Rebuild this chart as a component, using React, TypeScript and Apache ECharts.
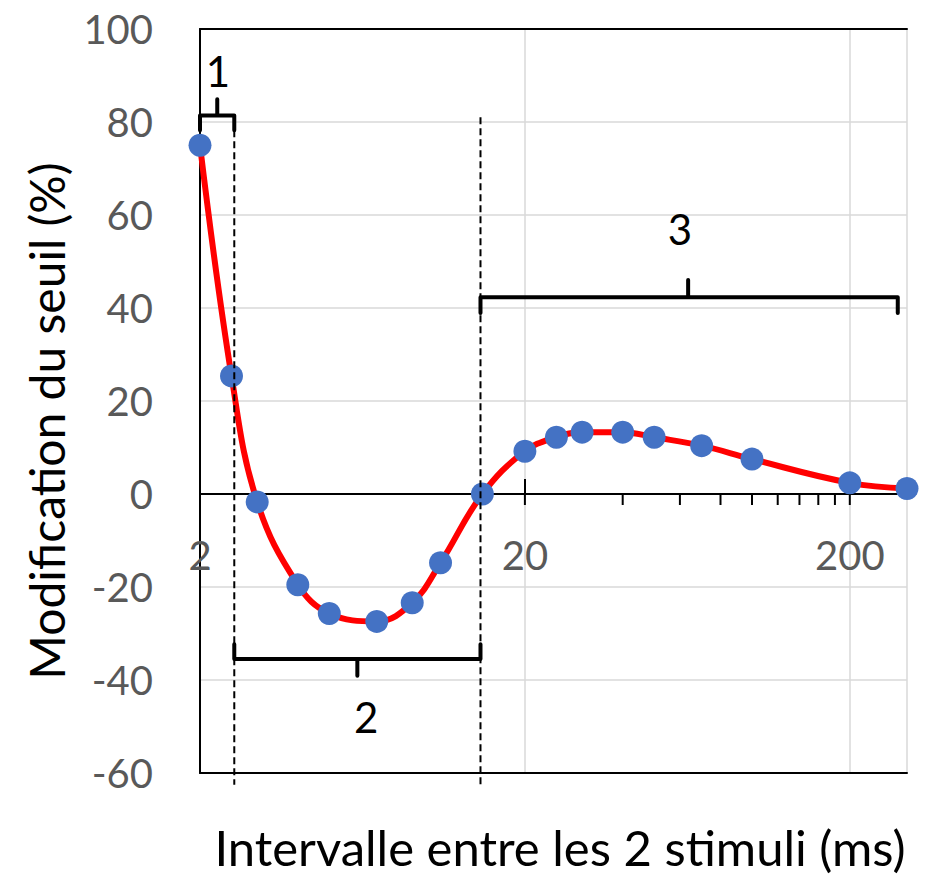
import React, { useEffect, useRef } from "react";
import * as echarts from "echarts";

// ---- data ----
const intervalsMs = [2, 2.5, 3, 4, 5, 7, 9, 11, 14.8, 20, 25, 30, 40, 50, 70, 100, 200, 300];
const thresholdChangePct = [75, 25.4, -1.7, -19.5, -25.7, -27.4, -23.4, -14.8, 0, 9.2, 12.2, 13.3, 13.3, 12.2, 10.4, 7.5, 2.4, 1.2];

const xMinMs = 2;
const xMaxMs = 300;
const yMin = -60;
const yMax = 100;
const yStep = 20;

const xTickLabelsMs = [2, 20, 200];
const majorTickBelow = [false, true, true];
const minorTickMs = [40, 60, 80, 100, 120, 140, 160, 180];

// phases (brackets)
const phaseLabels = ["1", "2", "3"];
const phaseStartMs = [2, 2.55, 14.6];
const phaseEndMs = [2.55, 14.6, 281];
const phaseNotchMs = [2.26, 6.1, 63.6];
const phaseBarPct = [81.4, -35.5, 42.3];
const phaseTipPct = [78.2, -32.3, 38.9];
const phaseNotchPct = [84.9, -39.1, 46];
const phaseLabelMs = [2.27, 6.5, 60];
const phaseLabelPct = [91, -48, 57];

// phase boundaries (dashed)
const boundaryMs = [2.55, 14.6];
const boundaryTopPct = [78.2, 81];
const boundaryBottomPct = -62.5;

const xTitle = "Intervalle entre les 2 stimuli (ms)";
const yTitle = "Modification du seuil (%)";

const toLog = (v: number) => Math.log10(v / xMinMs);

const FONT = "Lato";

export default function App() {
  const ref = useRef<HTMLDivElement>(null);

  useEffect(() => {
    if (!ref.current) return;
    const chart = echarts.init(ref.current, undefined, { renderer: "svg" });
    const xMaxLog = toLog(xMaxMs);

    const commonX = { type: "value", min: 0, max: xMaxLog, interval: 1 };

    chart.setOption({
      animation: false,
      backgroundColor: "#ffffff",
      grid: { left: 200, right: 21, top: 29, bottom: 102, outerBoundsMode: "none", containLabel: false },
      graphic: [
        {
          type: "text",
          x: 560,
          y: 847,
          style: {
            text: xTitle,
            fill: "#000000",
            fontSize: 49,
            lineHeight: 50,
            fontFamily: FONT,
            align: "center",
            verticalAlign: "middle",
          },
        },
        {
          type: "text",
          x: 46,
          y: 421,
          rotation: Math.PI / 2,
          style: {
            text: yTitle,
            fill: "#000000",
            fontSize: 48,
            fontFamily: FONT,
            align: "center",
            verticalAlign: "middle",
          },
        },
      ],
      xAxis: [
        {
          ...commonX,
          position: "bottom",
          axisLine: { onZero: true, lineStyle: { color: "#000000", width: 2 } },
          axisTick: { show: true, inside: true, length: 15, lineStyle: { color: "#000000", width: 2 } },
          axisLabel: { show: false },
          splitLine: { show: true, lineStyle: { color: "#d9d9d9", width: 1.5 } },
        },
        {
          ...commonX,
          position: "bottom",
          axisLine: { onZero: false, lineStyle: { color: "#000000", width: 2 } },
          axisTick: { show: false },
          axisLabel: { show: false },
          splitLine: { show: false },
        },
        {
          ...commonX,
          position: "top",
          axisLine: { onZero: false, lineStyle: { color: "#000000", width: 2 } },
          axisTick: { show: false },
          axisLabel: { show: false },
          splitLine: { show: false },
        },
      ],
      yAxis: [
        {
          type: "value",
          min: yMin,
          max: yMax,
          interval: yStep,
          position: "left",
          axisLine: { show: true, lineStyle: { color: "#d9d9d9", width: 2 } },
          axisTick: { show: false },
          axisLabel: { margin: 47, color: "#595959", fontSize: 40, fontFamily: FONT },
          splitLine: { show: true, lineStyle: { color: "#d9d9d9", width: 1.5 } },
        },
        {
          type: "value",
          min: yMin,
          max: yMax,
          interval: yStep,
          position: "right",
          axisLine: { show: true, lineStyle: { color: "#000000", width: 2 } },
          axisTick: { show: false },
          axisLabel: { show: false },
          splitLine: { show: false },
        },
      ],
      series: [
        {
          type: "line",
          data: intervalsMs.map((x, i) => [toLog(x), thresholdChangePct[i]]),
          smooth: 0.4,
          symbol: "circle",
          symbolSize: 23,
          lineStyle: { color: "#ff0000", width: 6 },
          itemStyle: { color: "#4472C4" },
          z: 3,
        },
        {
          // x tick labels + major ticks below the zero axis
          type: "custom",
          clip: false,
          z: 2,
          data: xTickLabelsMs.map((m, i) => [toLog(m), majorTickBelow[i] ? 1 : 0]),
          renderItem: (params: any, api: any) => {
            const i = params.dataIndex;
            const p = api.coord([api.value(0), 0]);
            const children: any[] = [
              {
                type: "text",
                x: p[0],
                y: p[1] + 61,
                style: {
                  text: String(xTickLabelsMs[i]),
                  fill: "#595959",
                  fontSize: 40,
                  fontFamily: FONT,
                  align: "center",
                  verticalAlign: "middle",
                },
              },
            ];
            if (api.value(1)) {
              children.push({
                type: "line",
                shape: { x1: p[0], y1: p[1], x2: p[0], y2: p[1] + 11 },
                style: { stroke: "#000000", lineWidth: 2 },
              });
            }
            return { type: "group", children };
          },
        },
        {
          // minor ticks below the zero axis
          type: "custom",
          clip: false,
          z: 2,
          data: minorTickMs.map((m) => [toLog(m), 0]),
          renderItem: (params: any, api: any) => {
            const p = api.coord([api.value(0), 0]);
            return {
              type: "line",
              shape: { x1: p[0], y1: p[1], x2: p[0], y2: p[1] + 11 },
              style: { stroke: "#000000", lineWidth: 2 },
            };
          },
        },
        {
          // dashed phase boundaries
          type: "custom",
          clip: false,
          z: 4,
          data: boundaryMs.map((m, i) => [toLog(m), boundaryTopPct[i]]),
          renderItem: (params: any, api: any) => {
            const top = api.coord([api.value(0), api.value(1)]);
            const bottom = api.coord([api.value(0), boundaryBottomPct]);
            return {
              type: "line",
              shape: { x1: top[0], y1: top[1], x2: bottom[0], y2: bottom[1] },
              style: { stroke: "#000000", lineWidth: 2, lineDash: [7, 4] },
            };
          },
        },
        {
          // phase brackets and labels
          type: "custom",
          clip: false,
          z: 4,
          data: phaseLabels.map((_, i) => [toLog(phaseLabelMs[i]), phaseLabelPct[i]]),
          renderItem: (params: any, api: any) => {
            const i = params.dataIndex;
            const c = (ms: number, pct: number) => api.coord([toLog(ms), pct]);
            const pts = [
              c(phaseStartMs[i], phaseTipPct[i]),
              c(phaseStartMs[i], phaseBarPct[i]),
              c(phaseNotchMs[i], phaseBarPct[i]),
              c(phaseNotchMs[i], phaseNotchPct[i]),
              c(phaseNotchMs[i], phaseBarPct[i]),
              c(phaseEndMs[i], phaseBarPct[i]),
              c(phaseEndMs[i], phaseTipPct[i]),
            ];
            const lp = c(phaseLabelMs[i], phaseLabelPct[i]);
            return {
              type: "group",
              children: [
                {
                  type: "polyline",
                  shape: { points: pts },
                  style: { stroke: "#000000", lineWidth: 4, fill: "none", lineJoin: "round", lineCap: "round" },
                },
                {
                  type: "text",
                  x: lp[0],
                  y: lp[1],
                  style: {
                    text: phaseLabels[i],
                    fill: "#000000",
                    fontSize: 42,
                    fontFamily: FONT,
                    align: "center",
                    verticalAlign: "middle",
                  },
                },
              ],
            };
          },
        },
      ],
    });

    return () => chart.dispose();
  }, []);

  return (
    <div
      ref={ref}
      style={{ position: "fixed", left: 0, top: 0, width: 928, height: 875, background: "#fff" }}
    />
  );
}
